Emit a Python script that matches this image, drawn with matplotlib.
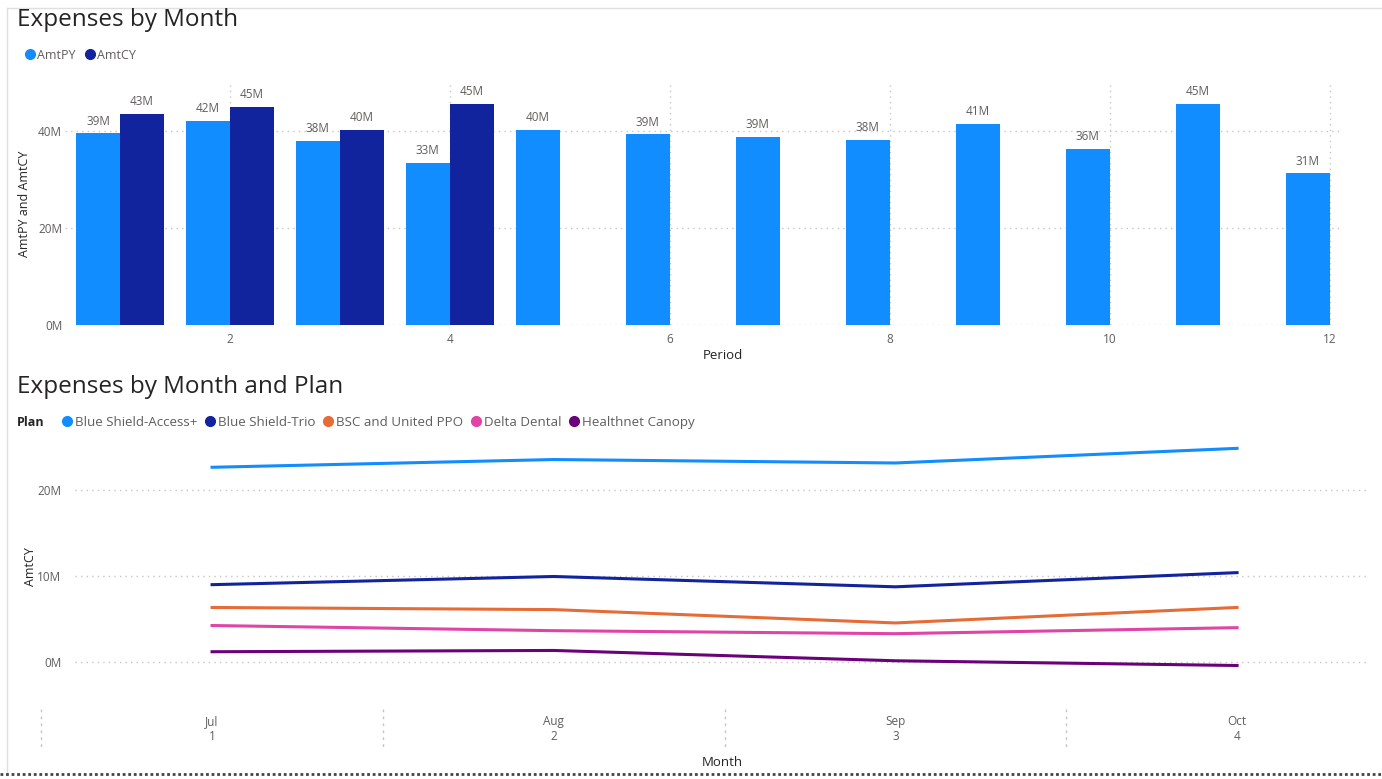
import matplotlib.pyplot as plt
from matplotlib.lines import Line2D

plt.rcParams['font.family'] = ['Open Sans', 'DejaVu Sans']

# top chart data (millions)
periods = [1, 2, 3, 4, 5, 6, 7, 8, 9, 10, 11, 12]
amt_py = [39.4, 41.9, 37.9, 33.4, 40.2, 39.2, 38.7, 38.1, 41.4, 36.2, 45.4, 31.2]
amt_cy = [43.4, 44.8, 40.2, 45.4]

# bottom chart data (millions)
months = ["Jul\n1", "Aug\n2", "Sep\n3", "Oct\n4"]
plans = ["Blue Shield-Access+", "Blue Shield-Trio", "BSC and United PPO",
         "Delta Dental", "Healthnet Canopy"]
plan_vals = [
    [22.6, 23.5, 23.1, 24.8],
    [8.95, 9.9, 8.7, 10.35],
    [6.3, 6.05, 4.5, 6.3],
    [4.2, 3.6, 3.25, 3.95],
    [1.15, 1.3, 0.1, -0.45],
]

c_py = "#118DFF"
c_cy = "#12239E"
plan_colors = ["#118DFF", "#12239E", "#E66C37", "#E044A7", "#6B007B"]
txt = "#605E5C"
title_c = "#252423"
grid_c = "#C8C6C4"

fig = plt.figure(figsize=(13.82, 7.79), dpi=100)

# ---------- Expenses by Month ----------
ax1 = fig.add_axes([0.047, 0.5828, 0.923, 0.312])
w = 0.4
ax1.bar([p - w / 2 for p in periods], amt_py, width=w, color=c_py, zorder=2)
ax1.bar([p + w / 2 for p in periods[:len(amt_cy)]], amt_cy, width=w, color=c_cy, zorder=2)
for p, v in zip(periods, amt_py):
    ax1.text(p - w / 2, v + 1.2, f"{v:.0f}M", ha="center", va="bottom", fontsize=8.5, color=txt)
for p, v in zip(periods, amt_cy):
    ax1.text(p + w / 2, v + 1.2, f"{v:.0f}M", ha="center", va="bottom", fontsize=8.5, color=txt)
ax1.set_xlim(0.5, 12.1)
ax1.set_ylim(0, 50)
ax1.set_yticks([0, 20, 40])
ax1.set_yticklabels(["0M", "20M", "40M"])
ax1.set_xticks([2, 4, 6, 8, 10, 12])
ax1.grid(True, color=grid_c, linestyle=(0, (1, 3)), linewidth=1, zorder=0)
ax1.tick_params(length=0, labelsize=8.5, labelcolor=txt, pad=6)
ax1.tick_params(axis="y", pad=2)
for s in ax1.spines.values():
    s.set_visible(False)
ax1.set_xlabel("Period", fontsize=9.5, color=title_c, labelpad=2)
ax1.xaxis.set_label_coords(0.516, -0.1)
ax1.set_ylabel("AmtPY and AmtCY", fontsize=9, color=title_c, labelpad=5)

fig.text(0.012, 0.974, "Expenses by Month", fontsize=17.5, color=title_c, va="center")
h1 = [Line2D([], [], marker="o", linestyle="", color=c, markersize=7) for c in (c_py, c_cy)]
fig.legend(h1, ["AmtPY", "AmtCY"], loc="center left", bbox_to_anchor=(0.008, 0.929),
           frameon=False, ncol=2, fontsize=9, handletextpad=0.0, columnspacing=0.5,
           labelcolor=txt, handlelength=1.2)

# ---------- Expenses by Month and Plan ----------
ax2 = fig.add_axes([0.0543, 0.1065, 0.937, 0.3312])
x = [1, 2, 3, 4]
for name, vals, c in zip(plans, plan_vals, plan_colors):
    ax2.plot(x, vals, color=c, linewidth=2.2, label=name)
ax2.set_xlim(0.599, 4.389)
ax2.set_ylim(-4, 26)
ax2.set_yticks([0, 10, 20])
ax2.set_yticklabels(["0M", "10M", "20M"])
ax2.set_xticks(x)
ax2.set_xticklabels(months)
ax2.grid(True, axis="y", color=grid_c, linestyle=(0, (1, 3)), linewidth=1)
ax2.tick_params(length=0, labelsize=8.5, labelcolor=txt)
ax2.tick_params(axis="x", pad=14)
ax2.tick_params(axis="y", pad=10)
for s in ax2.spines.values():
    s.set_visible(False)
ax2.vlines([0.5, 1.5, 2.5, 3.5], -0.05, -0.205, transform=ax2.get_xaxis_transform(),
           colors=grid_c, linestyles=(0, (2, 3)), linewidth=1, clip_on=False)
ax2.set_xlabel("Month", fontsize=9.5, color=title_c, labelpad=9)
ax2.set_ylabel("AmtCY", fontsize=9, color=title_c, labelpad=0)

fig.text(0.012, 0.503, "Expenses by Month and Plan", fontsize=17.5, color=title_c, va="center")
fig.text(0.012, 0.458, "Plan", fontsize=9, color=title_c, fontweight="bold", va="center")
h2 = [Line2D([], [], marker="o", linestyle="", color=c, markersize=7) for c in plan_colors]
fig.legend(h2, plans, loc="center left", bbox_to_anchor=(0.034, 0.458),
           frameon=False, ncol=5, fontsize=9.6, handletextpad=0.0, columnspacing=0.35,
           labelcolor=txt, handlelength=1.2)

# frame lines of the report canvas
fig.add_artist(Line2D([0.005, 1.0], [0.99, 0.99], color="#E1DFDD", linewidth=1))
fig.add_artist(Line2D([0.005, 0.005], [0.005, 0.99], color="#E1DFDD", linewidth=1))
fig.add_artist(Line2D([0.0, 1.0], [0.006, 0.006], color="#444444", linewidth=2,
                      linestyle=(0, (1, 1))))

fig.savefig("out.png", dpi=100)
